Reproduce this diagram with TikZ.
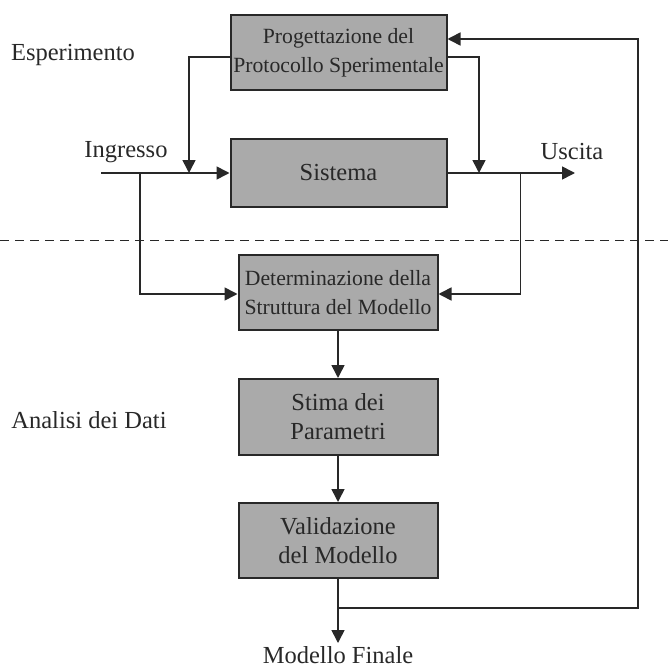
\documentclass[tikz,border=0pt]{standalone}
\usepackage{fontspec}
\setmainfont{Liberation Serif}
\usetikzlibrary{arrows.meta}
\definecolor{ink}{RGB}{40,40,40}
\definecolor{boxfill}{RGB}{170,170,170}
\begin{document}
\begin{tikzpicture}[x=1bp,y=-1bp,
  block/.style={draw=ink, line width=2bp, fill=boxfill, text=ink,
    align=center, inner sep=0pt, font=\fontsize{24.5bp}{29bp}\selectfont},
  narrowtext/.style={font=\fontsize{21.7bp}{29bp}\selectfont},
  lbl/.style={text=ink, inner sep=0pt, font=\fontsize{24.5bp}{29bp}\selectfont},
  arr/.style={draw=ink, line width=1.6bp, -{Triangle[length=13bp,width=13bp]}},
  wire/.style={draw=ink, line width=1.6bp}]
\useasboundingbox (0,0) rectangle (668,670);

% blocks
\node[block, narrowtext, minimum width=216bp, minimum height=75bp] (prog) at (338.5,52.5)
  {Progettazione del\\Protocollo Sperimentale};
\node[block, minimum width=216bp, minimum height=68bp] (sis) at (338.5,173) {Sistema};
\node[block, narrowtext, minimum width=199bp, minimum height=75bp] (det) at (338,292.5)
  {Determinazione della\\Struttura del Modello};
\node[block, minimum width=199bp, minimum height=76bp] (stima) at (338,417)
  {Stima dei\\Parametri};
\node[block, minimum width=199bp, minimum height=75bp] (valid) at (338,540.5)
  {Validazione\\del Modello};

% labels
\node[lbl] (esp) at (73,55) {Esperimento};
\node[lbl] (ingr) at (126,152) {Ingresso};
\node[lbl] (usc) at (572,152) {Uscita};
\node[lbl] (anal) at (89,420) {Analisi dei Dati};
\node[lbl, anchor=north, inner sep=3bp] (fin) at (338,643) {Modello Finale};

% junction points
\coordinate (inS) at (101,173);
\coordinate (inJ) at (140,173);
\coordinate (ctrlL) at (189,173);
\coordinate (ctrlR) at (479,173);
\coordinate (outJ) at (520.6,173);
\coordinate (outE) at (575,173);
\coordinate (fbJ) at (338,608);
\coordinate (fbC) at (638,608);

% experiment part
\draw[arr] (inS) -- (sis.west);
\draw[arr] ([yshift=-4.5bp]prog.west) -| (ctrlL);
\draw[arr] ([yshift=-4.5bp]prog.east) -| (ctrlR);
\draw[arr] (sis.east) -- (outE);

% separation between experiment and data analysis
\draw[ink, line width=1.2bp, dash pattern=on 9bp off 6bp] (0,240.7) -- (668,240.7);

% data analysis part
\draw[arr] (inJ) |- ([yshift=-1.5bp]det.west);
\draw[arr] (outJ) |- ([yshift=-1.5bp]det.east);
\draw[arr] (det) -- (stima);
\draw[arr] (stima) -- (valid);
\draw[arr] (valid) -- (fin);
\draw[arr] (fbJ) -- (fbC) |- ([yshift=13.5bp]prog.east);
\end{tikzpicture}
\end{document}
